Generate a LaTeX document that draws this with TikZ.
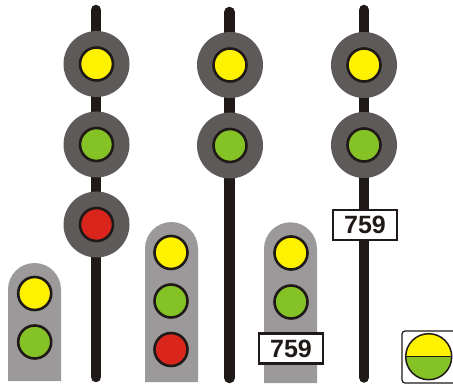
\documentclass[tikz,border=0pt]{standalone}
\usepackage{fontspec}
\setmainfont{Liberation Sans}
\definecolor{lampyellow}{HTML}{FFF200}
\definecolor{lampgreen}{HTML}{85C226}
\definecolor{lampred}{HTML}{DA251D}
\definecolor{headgrey}{HTML}{5F5A5A}
\definecolor{plategrey}{HTML}{9B999A}
\definecolor{polecolor}{HTML}{1F1A17}
\tikzset{
  pole/.style={line width=10.5pt, line cap=round, draw=polecolor},
  head/.style={circle, fill=headgrey, inner sep=0pt, minimum size=66pt},
  plate/.style={fill=plategrey},
  lamp/.style={circle, draw=polecolor, line width=2.6pt, inner sep=0pt, minimum size=33pt, fill=#1},
  numberplate/.style={draw=polecolor, fill=white, line width=2.2pt, inner sep=0pt, minimum width=64pt, minimum height=30pt, text=polecolor, font=\bfseries\fontsize{25}{25}\selectfont},
}
\begin{document}
\begin{tikzpicture}[x=1pt, y=-1pt]
  \useasboundingbox (0,0) rectangle (453,385);
  % poles
  \coordinate (topa) at (96,10);
  \coordinate (bottoma) at (96,377);
  \coordinate (topb) at (229.5,12);
  \coordinate (bottomb) at (229.5,378);
  \coordinate (topc) at (364,10);
  \coordinate (bottomc) at (364,377.5);
  \draw[pole] (topa) -- (bottoma);
  \draw[pole] (topb) -- (bottomb);
  \draw[pole] (topc) -- (bottomc);
  % signal heads on the poles
  \node[head] (heada1) at (96.5,64) {};
  \node[head] (heada2) at (96.5,144.5) {};
  \node[head] (heada3) at (96.5,224.5) {};
  \node[head] (headb1) at (230,65) {};
  \node[head] (headb2) at (230,145.5) {};
  \node[head] (headc1) at (364,65) {};
  \node[head] (headc2) at (364,145) {};
  \node[lamp=lampyellow] (lampa1) at (heada1) {};
  \node[lamp=lampgreen] (lampa2) at (heada2) {};
  \node[lamp=lampred] (lampa3) at (heada3) {};
  \node[lamp=lampyellow] (lampb1) at (headb1) {};
  \node[lamp=lampgreen] (lampb2) at (headb2) {};
  \node[lamp=lampyellow] (lampc1) at (headc1) {};
  \node[lamp=lampgreen] (lampc2) at (headc2) {};
  \node[numberplate] (numberc) at (365,225) {759};
  % low signals
  \fill[plate] (8,381) -- (8,289.5) arc[start angle=180, end angle=360, radius=26.5] -- (61,381) -- cycle;
  \fill[plate] (145,382) -- (145,248.5) arc[start angle=180, end angle=360, radius=26.5] -- (198,382) -- cycle;
  \fill[plate] (264,383) -- (264,248.8) arc[start angle=180, end angle=360, radius=26.5] -- (317,383) -- cycle;
  \node[lamp=lampyellow] (lampd1) at (34.7,293.5) {};
  \node[lamp=lampgreen] (lampd2) at (34.7,342) {};
  \node[lamp=lampyellow] (lampe1) at (171,252.5) {};
  \node[lamp=lampgreen] (lampe2) at (171,301) {};
  \node[lamp=lampred] (lampe3) at (171,349.5) {};
  \node[lamp=lampyellow] (lampf1) at (291,253) {};
  \node[lamp=lampgreen] (lampf2) at (291,302) {};
  \node[numberplate] (numberf) at (291,348.5) {759};
  % legend, cut by the right edge
  \draw[polecolor, line width=1.2pt, rounded corners=3pt, fill=white] (402,331) rectangle (460,383);
  \node[circle, draw=polecolor, line width=1.5pt, inner sep=0pt, minimum size=46pt,
    path picture={
      \fill[lampyellow] (path picture bounding box.north west) rectangle (path picture bounding box.east);
      \fill[lampgreen] (path picture bounding box.west) rectangle (path picture bounding box.south east);
      \draw[polecolor, line width=1.5pt] (path picture bounding box.west) -- (path picture bounding box.east);
    }] (legendlamp) at (428.7,356.7) {};
\end{tikzpicture}
\end{document}
